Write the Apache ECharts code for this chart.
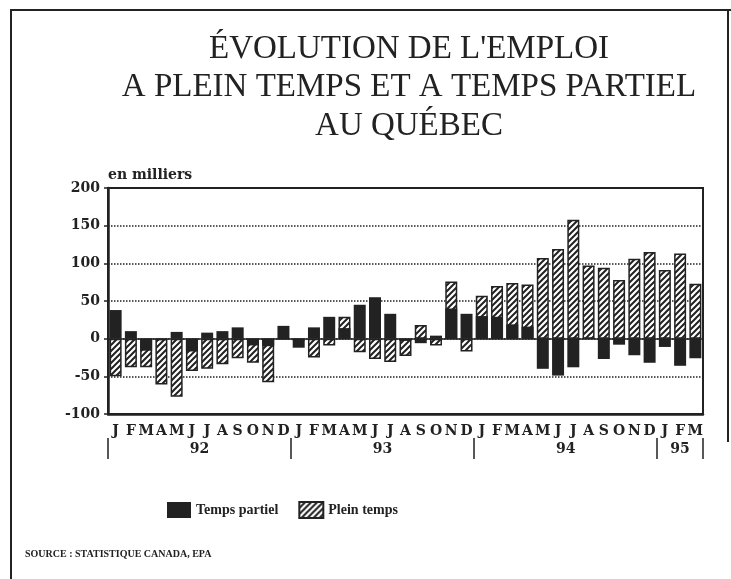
<!DOCTYPE html>
<html>
<head>
<meta charset="utf-8">
<script src="https://cdn.jsdelivr.net/npm/echarts@6/dist/echarts.min.js"></script>
<style>
    html, body { margin: 0; padding: 0; background: #fff; }
    #chart { width: 731px; height: 579px; }
</style>
</head>
<body>
<div id="chart"></div>
<script>
// mois de janvier 1992 a mars 1995
var months = ['J','F','M','A','M','J','J','A','S','O','N','D',
              'J','F','M','A','M','J','J','A','S','O','N','D',
              'J','F','M','A','M','J','J','A','S','O','N','D',
              'J','F','M'];
// variation en milliers
var tempsPartiel = [38, 10, -16, -2, 9, -17, 8, 10, 15, -9, -10, 17,
                    -12, 15, 29, 14, 45, 55, 33, -3, -6, 4, 40, 33,
                    30, 29, 19, 16, -40, -49, -38, 1, -27, -8, -22, -32,
                    -11, -36, -26];
var pleinTemps = [-50, -38, -38, -61, -77, -43, -40, -34, -26, -32, -58, 0,
                  -3, -25, -9, 29, -18, -27, -31, -23, 18, -9, 76, -17,
                  57, 70, 74, 72, 107, 119, 158, 97, 94, 78, 106, 115,
                  91, 113, 73];
var yearLabels = ['92', '93', '94', '95'];
var monthsPerYear = [12, 12, 12, 3];

var ink = '#222';
var labelFont = 'DejaVu Serif';

// bornes et milieux des annees sur l'axe des mois
var yearBounds = [0];
var yearCenters = [];
monthsPerYear.forEach(function (n, i) {
    yearCenters.push(yearBounds[i] + n / 2);
    yearBounds.push(yearBounds[i] + n);
});

function hatchPattern() {
    var c = document.createElement('canvas');
    c.width = 6;
    c.height = 6;
    var ctx = c.getContext('2d');
    ctx.fillStyle = '#fff';
    ctx.fillRect(0, 0, 6, 6);
    ctx.strokeStyle = ink;
    ctx.lineWidth = 2;
    ctx.beginPath();
    ctx.moveTo(-1, 7); ctx.lineTo(7, -1);
    ctx.moveTo(-4, 4); ctx.lineTo(4, -4);
    ctx.moveTo(2, 10); ctx.lineTo(10, 2);
    ctx.stroke();
    return { image: c, repeat: 'repeat' };
}

var option = {
    backgroundColor: '#fff',
    animation: false,
    title: {
        text: 'ÉVOLUTION DE L\'EMPLOI\nA PLEIN TEMPS ET A TEMPS PARTIEL\nAU QUÉBEC',
        left: 404,
        top: 25,
        textAlign: 'center',
        textStyle: {
            fontFamily: 'Liberation Serif',
            fontWeight: 'normal',
            fontSize: 33,
            lineHeight: 38.5,
            color: ink
        }
    },
    legend: {
        data: ['Temps partiel', 'Plein temps'],
        left: 162,
        top: 496,
        itemWidth: 24,
        itemHeight: 16,
        itemGap: 20,
        icon: 'rect',
        textStyle: {
            fontFamily: 'Liberation Serif',
            fontWeight: 'bold',
            fontSize: 14,
            color: ink
        }
    },
    grid: {
        left: 108,
        right: 28,
        top: 188,
        bottom: 165,
        show: true,
        borderColor: ink,
        borderWidth: 2
    },
    xAxis: [
        {
            type: 'category',
            data: months,
            position: 'bottom',
            axisLine: { onZero: false, lineStyle: { color: ink, width: 2.5 } },
            axisTick: { inside: true, length: 7, alignWithLabel: true, lineStyle: { color: ink, width: 1.5 } },
            axisLabel: {
                interval: 0,
                margin: 10,
                fontFamily: labelFont,
                fontWeight: 'bold',
                fontSize: 14,
                color: ink
            }
        },
        {
            type: 'value',
            min: 0,
            max: months.length,
            position: 'bottom',
            offset: 24,
            axisLine: { show: false, onZero: false },
            splitLine: { show: false },
            axisTick: {
                show: true,
                length: 21,
                customValues: yearBounds,
                lineStyle: { color: ink, width: 1.5 }
            },
            axisLabel: {
                customValues: yearCenters,
                margin: 4,
                fontFamily: labelFont,
                fontWeight: 'bold',
                fontSize: 14,
                color: ink,
                formatter: function (v) {
                    var i = yearCenters.indexOf(v);
                    return i >= 0 ? yearLabels[i] : '';
                }
            }
        }
    ],
    yAxis: {
        type: 'value',
        min: -100,
        max: 200,
        interval: 50,
        name: 'en milliers',
        nameLocation: 'end',
        nameGap: 6,
        nameTextStyle: {
            align: 'left',
            fontFamily: labelFont,
            fontWeight: 'bold',
            fontSize: 14,
            color: ink
        },
        axisLine: { show: true, lineStyle: { color: ink, width: 2.5 } },
        axisTick: { show: true, length: 4, lineStyle: { color: ink, width: 1.5 } },
        axisLabel: {
            margin: 8,
            fontFamily: labelFont,
            fontWeight: 'bold',
            fontSize: 14,
            color: ink
        },
        splitLine: { lineStyle: { color: ink, type: 'dotted', width: 1.5 } }
    },
    series: [
        {
            name: 'Plein temps',
            type: 'bar',
            data: pleinTemps,
            barWidth: 12,
            barGap: '-100%',
            itemStyle: { color: hatchPattern(), borderColor: ink, borderWidth: 1.5 }
        },
        {
            name: 'Temps partiel',
            type: 'bar',
            data: tempsPartiel,
            barWidth: 12,
            barGap: '-100%',
            itemStyle: { color: ink },
            markLine: {
                silent: true,
                symbol: 'none',
                label: { show: false },
                lineStyle: { color: ink, type: 'solid', width: 1.5 },
                data: [{ yAxis: 0 }]
            }
        }
    ],
    graphic: [
        { type: 'line', shape: { x1: 11, y1: 10, x2: 11, y2: 579 }, style: { stroke: ink, lineWidth: 2 } },
        { type: 'line', shape: { x1: 10, y1: 10, x2: 731, y2: 10 }, style: { stroke: ink, lineWidth: 2 } },
        { type: 'line', shape: { x1: 728, y1: 10, x2: 728, y2: 442 }, style: { stroke: ink, lineWidth: 2 } },
        {
            type: 'text',
            left: 25,
            top: 549,
            style: {
                text: 'SOURCE : STATISTIQUE CANADA, EPA',
                fontFamily: 'Liberation Serif',
                fontWeight: 'bold',
                fontSize: 10,
                fill: ink
            }
        }
    ]
};

var chart = echarts.init(document.getElementById('chart'));
chart.setOption(option, true);
</script>
</body>
</html>
